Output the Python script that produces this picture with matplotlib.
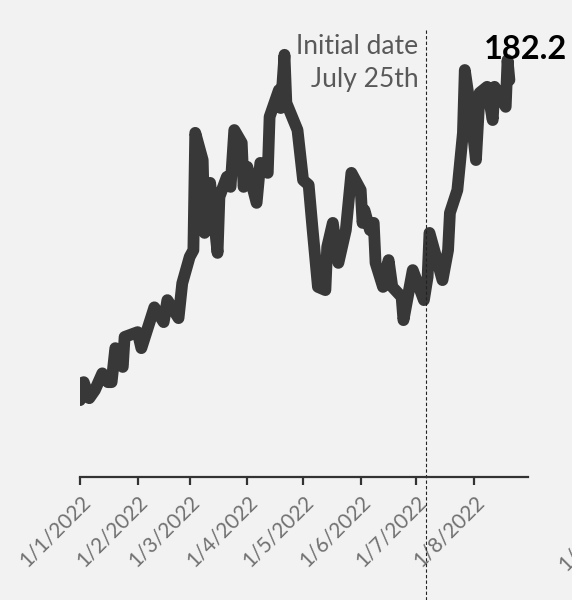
import matplotlib.pyplot as plt
import matplotlib.dates as mdates
import pandas as pd

# price series
dates = ["2022-01-01", "2022-01-02", "2022-01-03", "2022-01-06", "2022-01-09", "2022-01-13",
         "2022-01-16", "2022-01-18", "2022-01-20", "2022-01-24", "2022-01-25", "2022-02-01",
         "2022-02-03", "2022-02-10", "2022-02-15", "2022-02-17", "2022-02-23", "2022-02-25",
         "2022-03-01", "2022-03-03", "2022-03-04", "2022-03-08", "2022-03-09", "2022-03-12",
         "2022-03-16", "2022-03-17", "2022-03-21", "2022-03-23", "2022-03-25", "2022-03-29",
         "2022-03-30", "2022-04-01", "2022-04-06", "2022-04-08", "2022-04-12", "2022-04-13",
         "2022-04-18", "2022-04-19", "2022-04-21", "2022-04-22", "2022-04-28", "2022-05-01",
         "2022-05-04", "2022-05-06", "2022-05-09", "2022-05-13", "2022-05-14", "2022-05-17",
         "2022-05-20", "2022-05-24", "2022-05-27", "2022-06-01", "2022-06-02", "2022-06-03",
         "2022-06-06", "2022-06-08", "2022-06-09", "2022-06-13", "2022-06-16", "2022-06-18",
         "2022-06-23", "2022-06-24", "2022-06-29", "2022-07-05", "2022-07-07", "2022-07-08",
         "2022-07-15", "2022-07-18", "2022-07-19", "2022-07-23", "2022-07-26", "2022-07-27",
         "2022-07-30", "2022-08-02", "2022-08-04", "2022-08-08", "2022-08-11", "2022-08-12",
         "2022-08-14", "2022-08-18", "2022-08-19", "2022-08-20"]
values = [102.2, 106.5, 106.7, 102.7, 104.7, 108.9,
          106.7, 106.7, 115.2, 110.5, 118.0, 119.2,
          115.2, 125.4, 121.7, 127.2, 122.7, 131.4,
          138.0, 139.7, 169.0, 162.2, 144.0, 156.5,
          139.0, 153.0, 158.0, 155.5, 169.7, 166.5,
          155.5, 160.5, 151.5, 161.5, 159.0, 173.0,
          179.7, 175.2, 188.5, 176.5, 169.7, 157.2,
          156.0, 145.5, 130.5, 129.7, 140.5, 146.5,
          136.5, 144.7, 159.0, 154.7, 146.5, 149.7,
          144.7, 146.5, 136.5, 130.5, 137.2, 130.5,
          128.0, 122.2, 134.7, 127.2, 133.0, 144.0,
          132.2, 139.7, 149.0, 154.7, 169.0, 184.7,
          175.0, 162.2, 179.0, 180.5, 172.2, 180.5,
          179.0, 175.5, 187.2, 182.2]
tick_dates = ["2022-01-01", "2022-02-01", "2022-03-01", "2022-04-01",
              "2022-05-01", "2022-06-01", "2022-07-01", "2022-08-01"]
tick_labels = ["1/1/2022", "1/2/2022", "1/3/2022", "1/4/2022",
               "1/5/2022", "1/6/2022", "1/7/2022", "1/8/2022"]
cut_label = "1/9/2022"
marker_date = "2022-07-06"
last_label = "182.2"

x = pd.to_datetime(dates)

plt.rcParams['font.family'] = ['Lato', 'DejaVu Sans']
bg = '#f2f2f2'
fig = plt.figure(figsize=(5.72, 6.0), dpi=100, facecolor=bg)
ax = fig.add_axes([80/572, 123/600, 448/572, 457/600])
ax.set_facecolor(bg)

ax.plot(x, values, color='#383838', lw=8.5, solid_joinstyle='round', solid_capstyle='round')

ax.set_xlim(pd.Timestamp("2022-01-01"), pd.Timestamp("2022-08-30"))
ax.set_ylim(83.0, 197.2)

for s in ['top', 'right', 'left']:
    ax.spines[s].set_visible(False)
ax.spines['bottom'].set_color('#333333')
ax.spines['bottom'].set_linewidth(1.6)
ax.set_yticks([])

ax.set_xticks(pd.to_datetime(tick_dates))
ax.set_xticklabels(tick_labels, rotation=45, ha='right', rotation_mode='anchor',
                   color='#707070', fontsize=15)
ax.tick_params(axis='x', length=5.5, width=1.6, color='#333333', pad=5)

# label of the next month, mostly outside the picture
fig.text(566/572, 1 - 572/600, cut_label, rotation=45, rotation_mode='anchor',
         ha='left', va='baseline', color='#707070', fontsize=15)

# initial date marker
ax.axvline(pd.Timestamp(marker_date), ymin=-0.27, ymax=0.982, color='#222222',
           lw=0.8, ls=(0, (3, 2)), clip_on=False)
ax.text(pd.Timestamp(marker_date) - pd.Timedelta(days=4), 193.7, "Initial date\nJuly 25th",
        ha='right', va='top', fontsize=19, color='#595959', linespacing=1.4)
ax.text(pd.Timestamp("2022-08-06"), 193.4, last_label, ha='left', va='top',
        fontsize=23.5, fontweight='bold', color='black')

fig.savefig('out.png', dpi=100, facecolor=bg)
